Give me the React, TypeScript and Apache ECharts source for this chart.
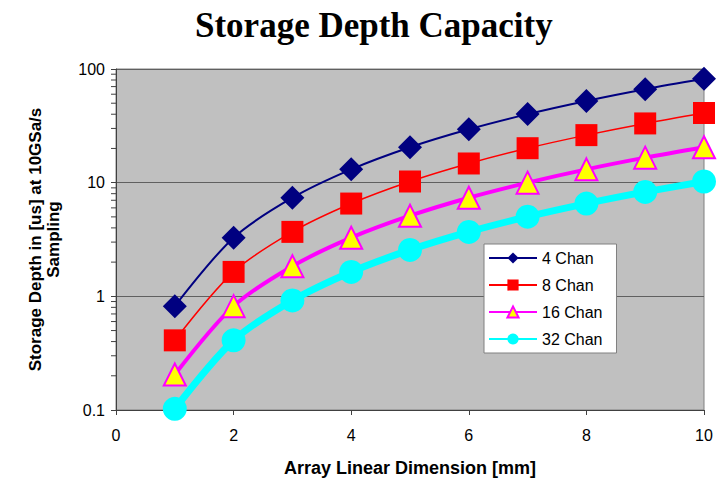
import React, { useEffect, useRef } from "react";
import * as echarts from "echarts";

const xValues = [1, 2, 3, 4, 5, 6, 7, 8, 9, 10];
const chan4 = [0.82, 3.28, 7.37, 13.1, 20.5, 29.5, 40.1, 52.4, 66.4, 81.9];
const chan8 = [0.41, 1.64, 3.69, 6.55, 10.24, 14.75, 20.1, 26.2, 33.2, 41.0];
const chan16 = [0.205, 0.82, 1.84, 3.28, 5.12, 7.37, 10.0, 13.1, 16.6, 20.5];
const chan32 = [0.1024, 0.41, 0.92, 1.64, 2.56, 3.69, 5.02, 6.55, 8.29, 10.24];
const minorTickValues = [
  0.2, 0.3, 0.4, 0.5, 0.6, 0.7, 0.8, 0.9,
  2, 3, 4, 5, 6, 7, 8, 9,
  20, 30, 40, 50, 60, 70, 80, 90,
];

const pairs = (ys: number[]) => xValues.map((x, i) => [x, ys[i]]);

export default function App() {
  const ref = useRef<HTMLDivElement>(null);
  useEffect(() => {
    if (!ref.current) return;
    const chart = echarts.init(ref.current, undefined, { renderer: "svg" });
    const sans = "Liberation Sans, Arial, sans-serif";
    chart.setOption({
      animation: false,
      backgroundColor: "#ffffff",
      title: {
        text: "Storage Depth Capacity",
        left: 190,
        top: 3,
        textStyle: {
          fontFamily: "Liberation Serif, Times New Roman, serif",
          fontWeight: "bold",
          fontSize: 35,
          color: "#000",
        },
      },
      legend: {
        orient: "vertical",
        left: 484,
        top: 244,
        backgroundColor: "#ffffff",
        borderColor: "#808080",
        borderWidth: 1,
        borderRadius: 0,
        padding: [6, 14, 6, 4],
        itemGap: 11,
        itemWidth: 48,
        itemHeight: 14,
        textStyle: { fontFamily: sans, fontSize: 16, color: "#000" },
        data: ["4 Chan", "8 Chan", "16 Chan", "32 Chan"],
      },
      grid: {
        left: 116,
        right: 15,
        top: 69,
        bottom: 69,
        show: true,
        backgroundColor: "#c0c0c0",
        borderColor: "#808080",
        borderWidth: 1,
      },
      xAxis: {
        type: "value",
        min: 0,
        max: 10,
        interval: 2,
        name: "Array Linear Dimension [mm]",
        nameLocation: "middle",
        nameGap: 49,
        nameTextStyle: { fontFamily: sans, fontWeight: "bold", fontSize: 18, color: "#000" },
        axisLine: { show: true, lineStyle: { color: "#404040", width: 1 } },
        axisTick: { show: true, inside: false, length: 5, lineStyle: { color: "#404040" } },
        axisLabel: { fontFamily: sans, fontSize: 16, color: "#000", margin: 17 },
        splitLine: { show: false },
      },
      yAxis: {
        type: "log",
        logBase: 10,
        min: 0.1,
        max: 100,
        name: "Storage Depth in [us] at 10GSa/s\nSampling",
        nameLocation: "middle",
        nameGap: 54,
        nameTextStyle: {
          fontFamily: sans,
          fontWeight: "bold",
          fontSize: 17,
          color: "#000",
          lineHeight: 18,
        },
        axisLine: { show: true, lineStyle: { color: "#404040", width: 1 } },
        axisTick: { show: true, inside: false, length: 5, lineStyle: { color: "#404040" } },
        axisLabel: { fontFamily: sans, fontSize: 16, color: "#000", margin: 11 },
        splitLine: { show: true, lineStyle: { color: "#606060", width: 1 } },
      },
      series: [
        {
          name: "minor",
          type: "custom",
          silent: true,
          clip: false,
          data: minorTickValues.map((v) => [0, v]),
          renderItem: (params: any, api: any) => {
            const p = api.coord([0, api.value(1)]);
            return {
              type: "line",
              shape: { x1: p[0] - 5, y1: p[1], x2: p[0], y2: p[1] },
              style: { stroke: "#404040", lineWidth: 1 },
            };
          },
        },
        {
          name: "32 Chan",
          type: "line",
          smooth: 0.3,
          data: pairs(chan32),
          lineStyle: { color: "#00ffff", width: 7 },
          itemStyle: { color: "#00ffff" },
          symbol: "circle",
          symbolSize: 24,
          z: 2,
        },
        {
          name: "16 Chan",
          type: "line",
          smooth: 0.3,
          data: pairs(chan16),
          lineStyle: { color: "#ff00ff", width: 4 },
          itemStyle: { color: "#ffff00", borderColor: "#ff00ff", borderWidth: 2 },
          symbol: "triangle",
          symbolSize: 22,
          z: 3,
        },
        {
          name: "8 Chan",
          type: "line",
          smooth: 0.3,
          data: pairs(chan8),
          lineStyle: { color: "#ff0000", width: 1.5 },
          itemStyle: { color: "#ff0000" },
          symbol: "rect",
          symbolSize: 22,
          z: 4,
        },
        {
          name: "4 Chan",
          type: "line",
          smooth: 0.3,
          data: pairs(chan4),
          lineStyle: { color: "#000080", width: 2 },
          itemStyle: { color: "#000080" },
          symbol: "diamond",
          symbolSize: 24,
          z: 5,
        },
      ],
    });
    return () => chart.dispose();
  }, []);
  return <div ref={ref} style={{ width: 719, height: 482, position: "absolute", left: 0, top: 0 }} />;
}
